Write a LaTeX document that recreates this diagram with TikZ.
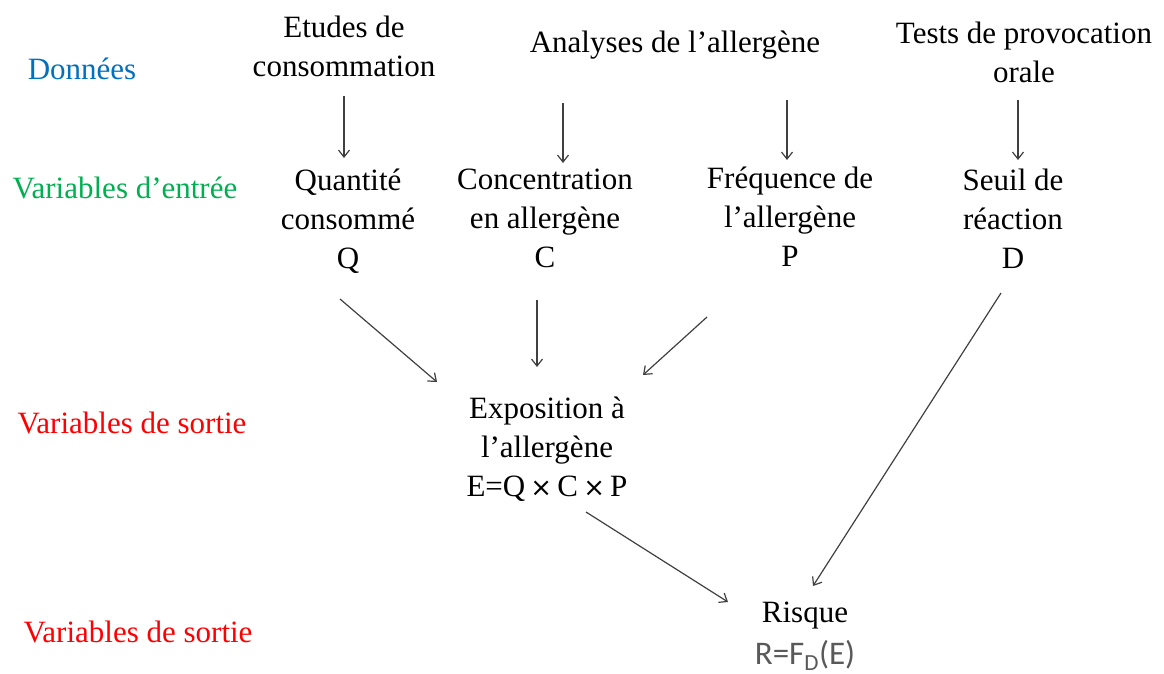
\documentclass[tikz,border=0pt]{standalone}
\usepackage{fontspec}
\setmainfont{Liberation Serif}
\newfontfamily\calib{Carlito}
\newfontfamily\symfont{DejaVu Sans}
\usetikzlibrary{arrows.meta}
\definecolor{cblue}{HTML}{0070C0}
\definecolor{cgreen}{HTML}{00B050}
\definecolor{cred}{HTML}{FF0000}
\definecolor{carrow}{HTML}{404040}
\definecolor{cgray}{HTML}{595959}
\begin{document}
\begin{tikzpicture}[x=1pt,y=-1pt,
  txt/.style={inner sep=0pt, align=center, font=\fontsize{31}{39}\selectfont, text=black},
  lbl/.style={inner sep=0pt, anchor=base, font=\fontsize{31}{39}\selectfont},
  arr/.style={draw=carrow, line width=1.2pt, -{Straight Barb[length=7pt,width=11pt,line width=1.2pt]}}]
\useasboundingbox (0,0) rectangle (1164,674);
% row labels
\node[lbl, text=cblue]  (ldon) at (82,80)   {Données};
\node[lbl, text=cgreen] (lent) at (125,198) {Variables d’entrée};
\node[lbl, text=cred]   (lso1) at (132,433) {Variables de sortie};
\node[lbl, text=cred]   (lso2) at (138,642) {Variables de sortie};
% data
\node[txt, anchor=north] (etudes)   at (344,16)  {Etudes de\\consommation};
\node[txt, anchor=north] (analyses) at (675,31)  {Analyses de l’allergène};
\node[txt, anchor=north] (tests)    at (1024,22) {Tests de provocation\\orale};
% input variables
\node[txt, anchor=north] (quant) at (348,169)  {Quantité\\consommé\\Q};
\node[txt, anchor=north] (conc)  at (545,169)  {Concentration\\en allergène\\C};
\node[txt, anchor=north] (freq)  at (790,167)  {Fréquence de\\l’allergène\\P};
\node[txt, anchor=north] (seuil) at (1013,169) {Seuil de\\réaction\\D};
% output
\node[txt, anchor=north] (expo)  at (547,397)  {Exposition à\\l’allergène\\E=Q\,{\symfont\fontsize{26}{39}\selectfont ×}\,C\,{\symfont\fontsize{26}{39}\selectfont ×}\,P};
\node[txt, anchor=north] (risque) at (805,602) {Risque};
\node[inner sep=0pt, anchor=base, text=cgray, font=\calib\fontsize{33}{39}\selectfont] (rf) at (805,664) {R=F\textsubscript{D}(E)};
% arrows
\draw[arr] ([shift={(0,80)}]etudes.north)   -- ([shift={(-4,-11)}]quant.north);
\draw[arr] ([shift={(-112,72)}]analyses.north) -- ([shift={(18,-6)}]conc.north);
\draw[arr] ([shift={(112,69)}]analyses.north)  -- ([shift={(-3,-7)}]freq.north);
\draw[arr] ([shift={(-6,78)}]tests.north)   -- ([shift={(5,-9)}]seuil.north);
\draw[arr] ([shift={(-8,130)}]quant.north)  -- ([shift={(-110,-15)}]expo.north);
\draw[arr] ([shift={(-8,131)}]conc.north)   -- ([shift={(-10,-30)}]expo.north);
\draw[arr] ([shift={(-83,150)}]freq.north)  -- ([shift={(96,-22)}]expo.north);
\draw[arr] ([shift={(39,115)}]expo.north)   -- ([shift={(-77,0)}]risque.north);
\draw[arr] ([shift={(-12,124)}]seuil.north) -- ([shift={(8,-16)}]risque.north);
\end{tikzpicture}
\end{document}
